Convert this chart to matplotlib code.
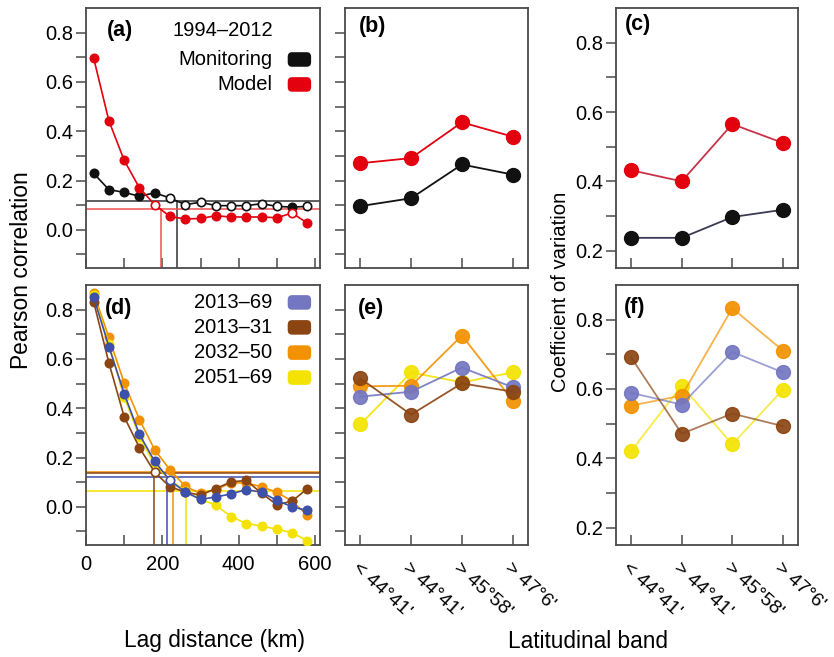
import matplotlib
matplotlib.use('Agg')
import matplotlib.pyplot as plt
from matplotlib.patches import FancyBboxPatch

plt.rcParams['font.family'] = ['Liberation Sans', 'DejaVu Sans']

# --- data ---
lag_km = [20, 60, 100, 140, 180, 220, 260, 300, 340, 380, 420, 460, 500, 540, 580]

monitoring = [0.229, 0.163, 0.152, 0.136, 0.150, 0.129, 0.102, 0.112, 0.098,
              0.098, 0.098, 0.106, 0.095, 0.092, 0.095]
monitoring_sig = [1, 1, 1, 1, 1, 0, 0, 0, 0, 0, 0, 0, 0, 1, 0]
model = [0.697, 0.442, 0.282, 0.170, 0.102, 0.054, 0.044, 0.046, 0.057,
         0.052, 0.052, 0.052, 0.049, 0.068, 0.027]
model_sig = [1, 1, 1, 1, 0, 1, 1, 1, 1, 1, 1, 1, 1, 0, 1]
# (x-intercept km, correlation threshold)
monitoring_cut = (239, 0.116)
model_cut = (196, 0.084)

per_2013_69 = [0.851, 0.650, 0.459, 0.294, 0.184, 0.107, 0.060, 0.030, 0.040,
               0.052, 0.070, 0.059, 0.026, 0.000, -0.015]
per_2013_31 = [0.832, 0.584, 0.365, 0.240, 0.140, 0.081, 0.060, 0.047, 0.074,
               0.101, 0.107, 0.055, 0.008, 0.023, 0.074]
per_2032_50 = [0.868, 0.687, 0.503, 0.354, 0.231, 0.150, 0.083, 0.054, 0.070,
               0.097, 0.097, 0.081, 0.059, 0.023, -0.035]
per_2051_69 = [0.859, 0.660, 0.446, 0.285, 0.170, 0.110, 0.063, 0.030, 0.007,
               -0.040, -0.068, -0.078, -0.091, -0.105, -0.138]
open_2013_69 = [5]
open_2013_31 = [4]
cut_2013_69 = (212, 0.120)
cut_2013_31 = (177, 0.138)
cut_2032_50 = (228, 0.141)
cut_2051_69 = (263, 0.066)

bands = ["< 44°41'", "> 44°41'", "> 45°58'", "> 47°6'"]

b_monitoring = [0.096, 0.128, 0.265, 0.224]
b_model = [0.270, 0.291, 0.436, 0.378]
c_monitoring = [0.237, 0.237, 0.297, 0.318]
c_model = [0.432, 0.400, 0.565, 0.511]

e_2013_69 = [0.447, 0.467, 0.565, 0.485]
e_2013_31 = [0.521, 0.374, 0.501, 0.467]
e_2032_50 = [0.489, 0.491, 0.695, 0.431]
e_2051_69 = [0.334, 0.545, 0.505, 0.545]
f_2013_69 = [0.589, 0.555, 0.707, 0.648]
f_2013_31 = [0.691, 0.471, 0.529, 0.493]
f_2032_50 = [0.552, 0.581, 0.833, 0.711]
f_2051_69 = [0.421, 0.610, 0.440, 0.598]

BLACK = '#111111'
RED = '#e3000f'
BLUE = '#7376c0'
BLUE_DARK = '#3d50aa'
BROWN = '#8b4513'
ORANGE = '#f39200'
YELLOW = '#f4e300'
SPINE = '#4a4a4a'
TICK_FS = 14.5

W, H = 834, 657
fig = plt.figure(figsize=(W / 100, H / 100), dpi=100)


def add_ax(x0, x1, y0, y1):
    return fig.add_axes([x0 / W, 1 - y1 / H, (x1 - x0) / W, (y1 - y0) / H])


def style(ax):
    for s in ax.spines.values():
        s.set_color(SPINE)
        s.set_linewidth(1.3)
    ax.tick_params(axis='y', which='both', direction='out', length=7, width=1.1,
                   color=SPINE, labelsize=TICK_FS, pad=2)
    ax.tick_params(axis='x', which='both', direction='in', length=7, width=1.1,
                   color=SPINE, labelsize=TICK_FS, pad=7)


def corr_axis(ax, labels=True):
    ax.set_ylim(-0.155, 0.9)
    ax.set_yticks([-0.1, 0.1, 0.3, 0.5, 0.7], minor=True)
    ax.set_yticks([0.0, 0.2, 0.4, 0.6, 0.8])
    if not labels:
        ax.set_yticklabels([])


def cv_axis(ax):
    ax.set_ylim(0.15, 0.9)
    ax.set_yticks([0.3, 0.5, 0.7], minor=True)
    ax.set_yticks([0.2, 0.4, 0.6, 0.8])


def lag_axis(ax, labels):
    ax.set_xlim(0, 613)
    ax.set_xticks([0, 200, 400, 600])
    ax.set_xticks([100, 300, 500], minor=True)
    if not labels:
        ax.set_xticklabels([])


def band_axis(ax, labels):
    ax.set_xlim(0.7, 4.3)
    ax.set_xticks([1, 2, 3, 4])
    if labels:
        ax.set_xticklabels(bands, rotation=-42, ha='left', va='top',
                           rotation_mode='anchor', fontsize=14)
        ax.tick_params(axis='x', pad=10)
    else:
        ax.set_xticklabels([])


def lag_series(ax, vals, color, open_idx, ms=6, z=3):
    ax.plot(lag_km, vals, '-', color=color, lw=1.2, zorder=z)
    for i, (x, v) in enumerate(zip(lag_km, vals)):
        fc = 'white' if i in open_idx else color
        ax.plot(x, v, 'o', ms=ms, mfc=fc, mec=color, mew=1.2, zorder=z + 0.5)


def cut_lines(ax, cut, color, lw=1.1):
    km, r = cut
    ax.axhline(r, color=color, lw=lw, zorder=2)
    ax.plot([km, km], [-0.155, r], color=color, lw=lw, zorder=2)


def key(ax, y, color, text):
    ax.add_patch(FancyBboxPatch((0.862, y - 0.028), 0.10, 0.056,
                                boxstyle='round,pad=0,rounding_size=0.018',
                                transform=ax.transAxes, fc=color, ec='none',
                                clip_on=False, zorder=6))
    ax.text(0.795, y, text, transform=ax.transAxes, ha='right', va='center',
            fontsize=14.5)


def panel_tag(ax, x, y, tag):
    ax.text(x, y, tag, transform=ax.transAxes, ha='center', va='center',
            fontsize=15.5, fontweight='bold')


# (a)
ax_a = add_ax(86, 320, 8, 268)
style(ax_a)
corr_axis(ax_a)
lag_axis(ax_a, False)
cut_lines(ax_a, monitoring_cut, '#333333')
cut_lines(ax_a, model_cut, '#f05050')
lag_series(ax_a, monitoring, BLACK, [i for i, s in enumerate(monitoring_sig) if not s])
lag_series(ax_a, model, RED, [i for i, s in enumerate(model_sig) if not s], z=4)
panel_tag(ax_a, 0.145, 0.912, '(a)')
ax_a.text(0.80, 0.912, '1994–2012', transform=ax_a.transAxes, ha='right',
          va='center', fontsize=14.5)
key(ax_a, 0.802, BLACK, 'Monitoring')
key(ax_a, 0.706, RED, 'Model')

# (d)
ax_d = add_ax(86, 320, 285, 545)
style(ax_d)
corr_axis(ax_d)
lag_axis(ax_d, True)
cut_lines(ax_d, cut_2051_69, YELLOW)
cut_lines(ax_d, cut_2013_69, BLUE_DARK)
cut_lines(ax_d, cut_2032_50, ORANGE)
cut_lines(ax_d, cut_2013_31, BROWN)
lag_series(ax_d, per_2032_50, ORANGE, [], z=3)
lag_series(ax_d, per_2051_69, YELLOW, [], z=4)
lag_series(ax_d, per_2013_31, BROWN, open_2013_31, z=5)
lag_series(ax_d, per_2013_69, BLUE_DARK, open_2013_69, z=6)
panel_tag(ax_d, 0.14, 0.908, '(d)')
key(ax_d, 0.933, BLUE, '2013–69')
key(ax_d, 0.837, BROWN, '2013–31')
key(ax_d, 0.740, ORANGE, '2032–50')
key(ax_d, 0.644, YELLOW, '2051–69')

xs = [1, 2, 3, 4]

# (b)
ax_b = add_ax(345, 528, 8, 268)
style(ax_b)
corr_axis(ax_b, labels=False)
band_axis(ax_b, False)
ax_b.plot(xs, b_monitoring, '-o', color=BLACK, lw=1.3, ms=10)
ax_b.plot(xs, b_model, '-o', color=RED, lw=1.3, ms=10)
panel_tag(ax_b, 0.15, 0.927, '(b)')

# (c)
ax_c = add_ax(616, 798, 8, 268)
style(ax_c)
cv_axis(ax_c)
band_axis(ax_c, False)
ax_c.plot(xs, c_monitoring, '-', color='#3a3a55', lw=1.3)
ax_c.plot(xs, c_monitoring, 'o', color=BLACK, ms=10)
ax_c.plot(xs, c_model, '-', color='#c8324a', lw=1.3)
ax_c.plot(xs, c_model, 'o', color=RED, ms=10)
panel_tag(ax_c, 0.12, 0.935, '(c)')

# (e)
ax_e = add_ax(345, 528, 285, 545)
style(ax_e)
corr_axis(ax_e, labels=False)
band_axis(ax_e, True)
for vals, col in [(e_2051_69, YELLOW), (e_2032_50, ORANGE),
                  (e_2013_69, BLUE), (e_2013_31, BROWN)]:
    ax_e.plot(xs, vals, '-', color=col, lw=1.3, alpha=0.9)
    ax_e.plot(xs, vals, 'o', color=col, ms=10, alpha=0.92)
panel_tag(ax_e, 0.14, 0.91, '(e)')

# (f)
ax_f = add_ax(616, 798, 285, 545)
style(ax_f)
cv_axis(ax_f)
band_axis(ax_f, True)
for vals, col in [(f_2051_69, YELLOW), (f_2032_50, ORANGE),
                  (f_2013_69, BLUE), (f_2013_31, BROWN)]:
    ax_f.plot(xs, vals, '-', color=col, lw=1.3, alpha=0.7)
    ax_f.plot(xs, vals, 'o', color=col, ms=10, alpha=0.92)
panel_tag(ax_f, 0.10, 0.915, '(f)')

# shared axis labels
fig.text(22 / W, 1 - 270 / H, 'Pearson correlation', rotation=90,
         ha='center', va='center', fontsize=16.4)
fig.text(560 / W, 1 - 292 / H, 'Coefficient of variation', rotation=90,
         ha='center', va='center', fontsize=14.6)
fig.text(215 / W, 1 - 640 / H, 'Lag distance (km)', ha='center', va='center',
         fontsize=16.4)
fig.text(588 / W, 1 - 641 / H, 'Latitudinal band', ha='center', va='center',
         fontsize=16.3)

fig.savefig('out.png', dpi=100)
